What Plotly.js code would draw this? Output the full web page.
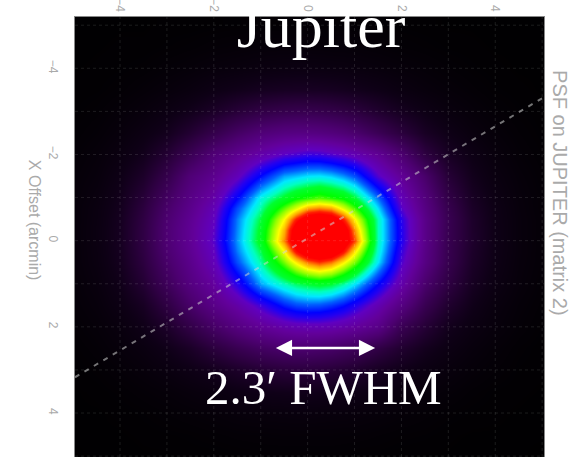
<!DOCTYPE html>
<html>
<head>
<meta charset="utf-8">
<script src="https://cdn.plot.ly/plotly-3.0.1.min.js"></script>
<style>
html,body{margin:0;padding:0;background:#fff;}
#chart{width:569px;height:457px;}
</style>
</head>
<body>
<div id="chart"></div>
<script>
// Offsets (arcmin) of the sampled PSF grid (finer near the core)
const xOffsets = [-5,-4.5,-4,-3.5,-3,-2.5,-2,-1.5,-1,-0.5,-0.25,0,0.25,0.5,0.75,1,1.5,2,2.5,3,3.5,4,4.5,5];
const yOffsets = [-5,-4.5,-4,-3.5,-3,-2.5,-2,-1.5,-1,-0.75,-0.5,-0.25,0,0.25,0.5,1,1.5,2,2.5,3,3.5,4,4.5,5];

// Displayed PSF level (0..1 of colour table), one row per yOffset
const psfLevel = [
  [0.003,0.003,0.004,0.004,0.005,0.005,0.006,0.007,0.008,0.008,0.009,0.009,0.009,0.008,0.008,0.008,0.007,0.006,0.005,0.004,0.004,0.003,0.003,0.003],
  [0.003,0.004,0.005,0.005,0.007,0.009,0.012,0.014,0.016,0.017,0.017,0.017,0.017,0.016,0.016,0.015,0.013,0.010,0.008,0.006,0.005,0.004,0.004,0.003],
  [0.004,0.005,0.006,0.008,0.012,0.016,0.021,0.024,0.028,0.030,0.031,0.031,0.030,0.029,0.028,0.026,0.022,0.018,0.014,0.010,0.007,0.005,0.004,0.004],
  [0.005,0.006,0.009,0.014,0.020,0.027,0.037,0.045,0.053,0.057,0.058,0.058,0.057,0.055,0.052,0.048,0.040,0.030,0.022,0.016,0.011,0.007,0.005,0.004],
  [0.006,0.009,0.015,0.022,0.033,0.046,0.064,0.086,0.105,0.116,0.119,0.119,0.116,0.111,0.104,0.095,0.073,0.053,0.038,0.025,0.017,0.011,0.007,0.005],
  [0.008,0.013,0.021,0.034,0.050,0.079,0.115,0.152,0.182,0.198,0.201,0.201,0.197,0.190,0.180,0.165,0.130,0.094,0.059,0.040,0.025,0.016,0.010,0.006],
  [0.011,0.018,0.029,0.047,0.080,0.127,0.180,0.220,0.260,0.295,0.305,0.315,0.312,0.300,0.288,0.270,0.230,0.170,0.098,0.057,0.037,0.022,0.013,0.008],
  [0.014,0.022,0.039,0.066,0.115,0.180,0.220,0.280,0.365,0.435,0.447,0.460,0.463,0.452,0.430,0.400,0.300,0.235,0.160,0.084,0.047,0.028,0.017,0.010],
  [0.016,0.027,0.047,0.086,0.147,0.205,0.258,0.360,0.475,0.540,0.575,0.594,0.610,0.594,0.575,0.530,0.414,0.280,0.190,0.108,0.058,0.034,0.020,0.012],
  [0.017,0.029,0.050,0.094,0.160,0.215,0.276,0.397,0.500,0.610,0.665,0.725,0.740,0.725,0.665,0.600,0.455,0.300,0.200,0.118,0.063,0.037,0.021,0.012],
  [0.017,0.030,0.053,0.100,0.170,0.225,0.288,0.420,0.530,0.680,0.785,0.860,0.880,0.860,0.785,0.680,0.490,0.330,0.210,0.124,0.068,0.038,0.022,0.013],
  [0.017,0.031,0.054,0.103,0.175,0.230,0.295,0.425,0.545,0.720,0.860,0.940,0.970,0.940,0.860,0.730,0.490,0.335,0.210,0.123,0.069,0.039,0.022,0.013],
  [0.017,0.031,0.054,0.103,0.175,0.230,0.300,0.430,0.550,0.740,0.865,0.950,0.980,0.950,0.865,0.760,0.490,0.335,0.210,0.122,0.070,0.039,0.022,0.013],
  [0.017,0.030,0.053,0.100,0.170,0.225,0.290,0.420,0.525,0.680,0.800,0.880,0.900,0.880,0.800,0.690,0.480,0.320,0.205,0.120,0.067,0.038,0.022,0.013],
  [0.017,0.029,0.051,0.095,0.160,0.215,0.280,0.400,0.500,0.620,0.690,0.750,0.775,0.750,0.690,0.620,0.460,0.305,0.200,0.119,0.064,0.037,0.021,0.013],
  [0.015,0.025,0.043,0.079,0.136,0.195,0.245,0.328,0.436,0.490,0.515,0.530,0.540,0.530,0.500,0.458,0.358,0.263,0.163,0.100,0.055,0.032,0.019,0.011],
  [0.013,0.021,0.035,0.057,0.102,0.158,0.210,0.255,0.315,0.376,0.397,0.405,0.402,0.388,0.367,0.335,0.270,0.200,0.123,0.073,0.043,0.025,0.015,0.009],
  [0.010,0.016,0.025,0.041,0.067,0.107,0.153,0.196,0.231,0.258,0.267,0.270,0.270,0.264,0.254,0.240,0.207,0.126,0.082,0.048,0.031,0.020,0.012,0.007],
  [0.007,0.012,0.019,0.028,0.043,0.063,0.094,0.123,0.148,0.165,0.168,0.168,0.163,0.157,0.146,0.135,0.105,0.075,0.050,0.034,0.022,0.014,0.008,0.005],
  [0.005,0.008,0.013,0.019,0.027,0.038,0.050,0.065,0.080,0.090,0.092,0.092,0.090,0.085,0.079,0.072,0.055,0.043,0.031,0.022,0.015,0.010,0.006,0.005],
  [0.004,0.005,0.008,0.012,0.016,0.022,0.028,0.036,0.041,0.044,0.045,0.045,0.044,0.043,0.041,0.038,0.032,0.024,0.019,0.014,0.009,0.006,0.005,0.004],
  [0.004,0.004,0.005,0.007,0.010,0.013,0.016,0.020,0.022,0.023,0.024,0.024,0.023,0.022,0.022,0.021,0.018,0.014,0.011,0.008,0.006,0.005,0.004,0.003],
  [0.003,0.004,0.004,0.005,0.006,0.007,0.009,0.011,0.012,0.013,0.013,0.013,0.013,0.013,0.012,0.012,0.010,0.008,0.007,0.005,0.004,0.004,0.003,0.003],
  [0.002,0.003,0.003,0.004,0.004,0.005,0.005,0.006,0.007,0.007,0.007,0.007,0.007,0.007,0.007,0.006,0.006,0.005,0.004,0.004,0.003,0.003,0.003,0.002]
];

// Axis ticks
const tickValues = [-4,-2,0,2,4];
const tickLabels = ['\u22124','\u22122','0','2','4'];
const gridValues = [-5,-4,-3,-2,-1,0,1,2,3,4,5];

// Diagonal cut line (arcmin) and FWHM arrow (arcmin)
const cutLineX = [-4.96, 5.04];
const cutLineY = [3.17, -3.33];
const fwhmArrowX = [-0.71, 1.44];
const fwhmArrowY = [2.49, 2.49];

const rainbow = [
  [0.00,'#000000'],[0.04,'#0e0016'],[0.10,'#2e0042'],[0.17,'#4c0070'],
  [0.24,'#62009a'],[0.29,'#6000c0'],[0.33,'#2400f0'],[0.36,'#0000ff'],
  [0.41,'#0060ff'],[0.46,'#00e8ff'],[0.49,'#00ffc0'],[0.53,'#00ff30'],
  [0.58,'#00ff00'],[0.63,'#90ff00'],[0.68,'#ffff00'],[0.73,'#ffa000'],
  [0.78,'#ff2000'],[0.81,'#ff0000'],[1.00,'#ff0000']
];

const traces = [
  {
    type:'heatmap', x:xOffsets, y:yOffsets, z:psfLevel,
    zmin:0, zmax:1, zsmooth:'best', colorscale:rainbow,
    showscale:false, hoverinfo:'skip'
  },
  {
    type:'scatter', mode:'lines', x:cutLineX, y:cutLineY,
    line:{color:'rgba(210,210,210,0.55)', width:2, dash:'5px,6px'},
    hoverinfo:'skip', showlegend:false
  }
];

const axisFont = {family:'Liberation Sans, Arial, sans-serif', size:12, color:'#aaaaaa'};

const shapes = [];
gridValues.forEach(v => {
  shapes.push({type:'line', xref:'x', yref:'paper', x0:v, x1:v, y0:0, y1:1, layer:'above',
    line:{color:'rgba(255,255,255,0.11)', width:1, dash:'dot'}});
  shapes.push({type:'line', xref:'paper', yref:'y', x0:0, x1:1, y0:v, y1:v, layer:'above',
    line:{color:'rgba(255,255,255,0.11)', width:1, dash:'dot'}});
});

const layout = {
  width:569, height:457,
  margin:{l:75, r:25, t:17, b:0},
  paper_bgcolor:'#ffffff', plot_bgcolor:'#000000',
  showlegend:false,
  title:{
    text:'Jupiter',
    font:{family:'Liberation Serif, Times New Roman, serif', size:62, color:'#ffffff'},
    x:321/569, xanchor:'center', xref:'container',
    y:1-25/457, yanchor:'middle', yref:'container'
  },
  xaxis:{
    side:'top', range:[-4.96, 5.04], tickvals:tickValues, ticktext:tickLabels,
    tickangle:90, tickfont:axisFont, showgrid:false, zeroline:false,
    showline:true, linecolor:'#888888', linewidth:1, mirror:true, ticks:'',
    fixedrange:true
  },
  yaxis:{
    range:[5.02, -5.19], tickvals:tickValues, ticktext:tickLabels,
    tickangle:90, tickfont:axisFont, showgrid:false, zeroline:false,
    showline:true, linecolor:'#888888', linewidth:1, mirror:true, ticks:'',
    ticklabelstandoff:11, fixedrange:true
  },
  shapes:shapes,
  annotations:[
    {
      x:fwhmArrowX[1], y:fwhmArrowY[1], ax:fwhmArrowX[0], ay:fwhmArrowY[0],
      xref:'x', yref:'y', axref:'x', ayref:'y', text:'', showarrow:true,
      arrowside:'end+start', arrowhead:2, arrowsize:1.3, arrowwidth:2.5, arrowcolor:'#ffffff'
    },
    {
      x:0.33, y:3.40, xref:'x', yref:'y', text:'2.3\u2032 FWHM', showarrow:false,
      xanchor:'center', yanchor:'middle',
      font:{family:'Liberation Serif, Times New Roman, serif', size:49, color:'#ffffff'}
    },
    {
      x:-0.0874, y:0.539, xref:'paper', yref:'paper', text:'X Offset (arcmin)', showarrow:false,
      textangle:90, xanchor:'center', yanchor:'middle',
      font:{family:'Liberation Sans, Arial, sans-serif', size:16, color:'#aaaaaa'}
    },
    {
      x:1.034, y:0.60, xref:'paper', yref:'paper', text:'PSF on JUPITER (matrix 2)', showarrow:false,
      textangle:90, xanchor:'center', yanchor:'middle',
      font:{family:'Liberation Sans, Arial, sans-serif', size:20, color:'#aaaaaa'}
    }
  ]
};

Plotly.newPlot('chart', traces, layout, {displayModeBar:false, staticPlot:true});
</script>
</body>
</html>
